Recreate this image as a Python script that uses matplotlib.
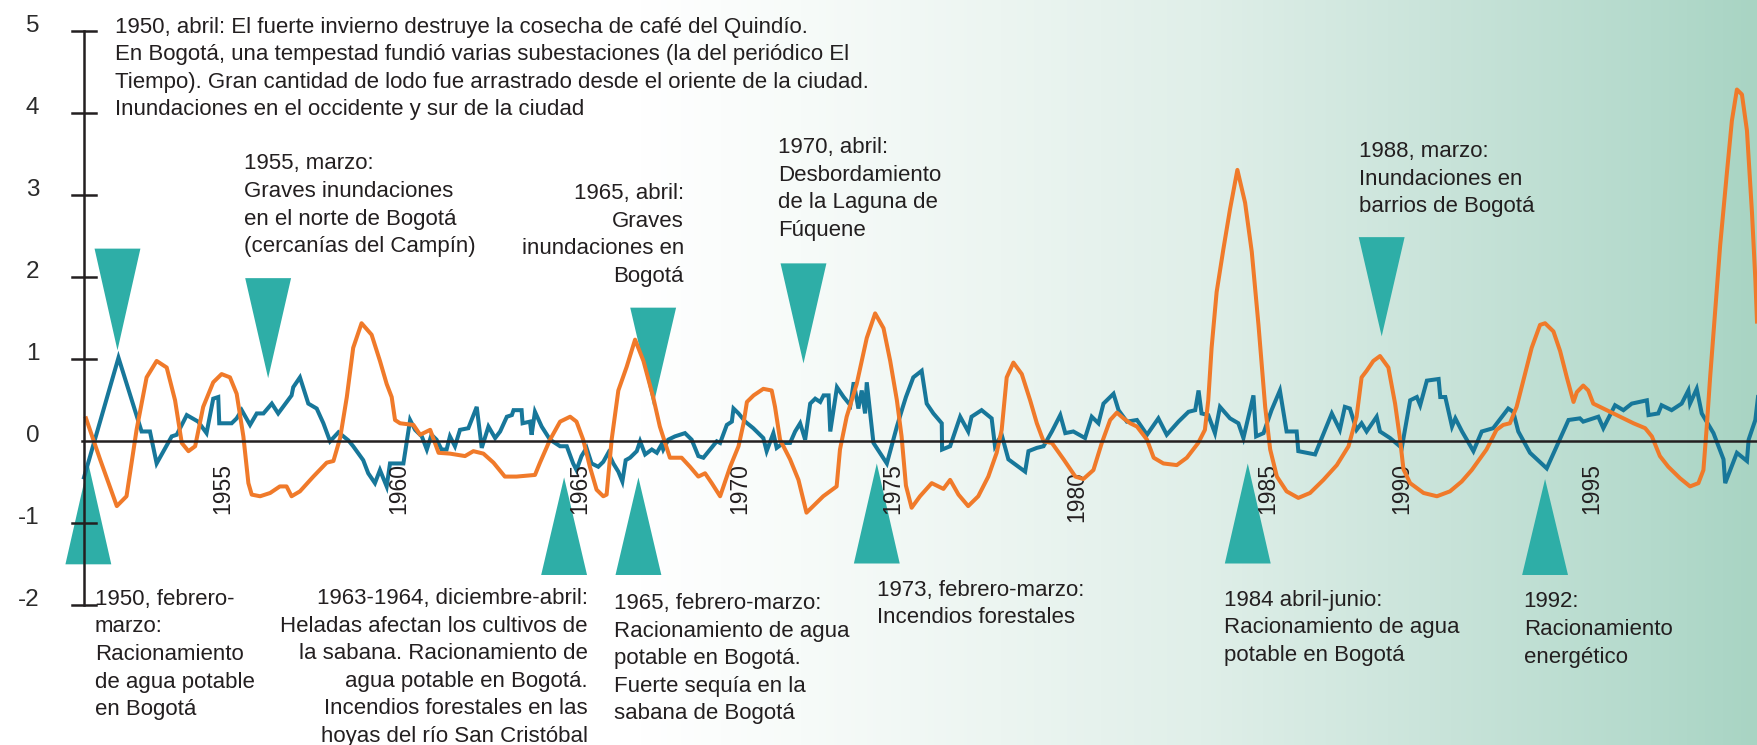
import numpy as np
import matplotlib
matplotlib.use("Agg")
from matplotlib import pyplot as plt
from matplotlib.patches import Polygon

plt.rcParams['font.family'] = ['Liberation Sans', 'DejaVu Sans']

# blue series (year, value)
blue_x = [1950.00, 1951.03, 1951.72, 1951.97, 1952.17, 1952.62, 1952.77, 1953.07, 1953.41, 1953.66,
          1953.86, 1954.01, 1954.04, 1954.41, 1954.56, 1954.71, 1954.96, 1955.16, 1955.36, 1955.61,
          1955.80, 1956.20, 1956.25, 1956.45, 1956.70, 1956.95, 1957.15, 1957.35, 1957.60, 1957.90,
          1958.04, 1958.34, 1958.49, 1958.69, 1958.84, 1959.04, 1959.14, 1959.54, 1959.74, 1959.89,
          1960.09, 1960.24, 1960.38, 1960.53, 1960.68, 1960.83, 1960.93, 1961.08, 1961.23, 1961.48,
          1961.73, 1961.88, 1962.08, 1962.28, 1962.43, 1962.63, 1962.78, 1962.83, 1963.07, 1963.10,
          1963.32, 1963.37, 1963.47, 1963.67, 1963.92, 1964.22, 1964.42, 1964.61, 1964.71, 1964.86,
          1965.01, 1965.16, 1965.36, 1965.51, 1965.66, 1965.81, 1965.96, 1966.08, 1966.18, 1966.31,
          1966.51, 1966.61, 1966.76, 1966.96, 1967.11, 1967.25, 1967.30, 1967.45, 1967.65, 1967.95,
          1968.15, 1968.35, 1968.50, 1968.70, 1968.90, 1969.00, 1969.20, 1969.35, 1969.40, 1969.55,
          1969.75, 1969.99, 1970.29, 1970.39, 1970.59, 1970.69, 1970.89, 1971.09, 1971.24, 1971.39,
          1971.54, 1971.69, 1971.84, 1971.99, 1972.09, 1972.24, 1972.29, 1972.49, 1972.69, 1972.89,
          1972.99, 1973.13, 1973.23, 1973.33, 1973.38, 1973.58, 1973.98, 1974.28, 1974.45, 1974.55,
          1974.77, 1975.02, 1975.17, 1975.37, 1975.62, 1975.63, 1975.87, 1976.17, 1976.41, 1976.51,
          1976.81, 1977.11, 1977.21, 1977.41, 1977.61, 1978.11, 1978.21, 1978.46, 1978.66, 1978.91,
          1979.16, 1979.31, 1979.55, 1979.90, 1980.10, 1980.30, 1980.45, 1980.75, 1980.90, 1981.15,
          1981.45, 1981.75, 1982.09, 1982.34, 1982.69, 1982.99, 1983.19, 1983.29, 1983.38, 1983.58,
          1983.78, 1983.93, 1984.23, 1984.48, 1984.63, 1984.93, 1985.01, 1985.23, 1985.47, 1985.72,
          1985.92, 1986.22, 1986.27, 1986.77, 1987.27, 1987.51, 1987.66, 1987.81, 1988.01, 1988.16,
          1988.31, 1988.61, 1988.71, 1989.01, 1989.36, 1989.61, 1989.81, 1989.91, 1990.11, 1990.46,
          1990.51, 1990.66, 1990.86, 1990.96, 1991.16, 1991.50, 1991.75, 1992.09, 1992.54, 1992.69,
          1992.84, 1993.19, 1993.69, 1994.34, 1994.68, 1994.78, 1995.23, 1995.38, 1995.73, 1995.98,
          1996.23, 1996.68, 1996.73, 1997.02, 1997.12, 1997.42, 1997.72, 1997.92, 1997.97, 1998.17,
          1998.32, 1998.67, 1998.97, 1999.02, 1999.37, 1999.67, 1999.72, 1999.92, 2000.00]
blue_y = [-0.45, 1.01, 0.11, 0.11, -0.28, 0.05, 0.07, 0.31, 0.23, 0.09,
          0.51, 0.53, 0.21, 0.21, 0.27, 0.37, 0.19, 0.33, 0.33, 0.45,
          0.33, 0.55, 0.65, 0.77, 0.45, 0.39, 0.21, -0.01, 0.10, 0.00,
          -0.07, -0.24, -0.40, -0.52, -0.36, -0.56, -0.28, -0.28, 0.25, 0.13,
          0.05, -0.11, 0.07, 0.01, -0.11, -0.11, 0.05, -0.07, 0.13, 0.15,
          0.41, -0.09, 0.17, 0.03, 0.11, 0.29, 0.31, 0.37, 0.37, 0.21,
          0.23, 0.07, 0.35, 0.17, 0.01, -0.07, -0.07, -0.28, -0.36, -0.19,
          -0.09, -0.28, -0.32, -0.26, -0.15, -0.28, -0.38, -0.50, -0.24, -0.21,
          -0.13, -0.01, -0.17, -0.11, -0.15, -0.05, -0.11, 0.01, 0.05, 0.09,
          0.01, -0.19, -0.21, -0.11, -0.01, -0.03, 0.19, 0.23, 0.39, 0.33,
          0.23, 0.15, 0.03, -0.13, 0.09, -0.09, -0.03, -0.03, 0.11, 0.21,
          0.01, 0.45, 0.51, 0.47, 0.55, 0.55, 0.11, 0.65, 0.53, 0.43,
          0.71, 0.39, 0.61, 0.33, 0.71, -0.03, -0.28, 0.17, 0.40, 0.53,
          0.77, 0.85, 0.45, 0.33, 0.21, -0.11, -0.07, 0.29, 0.11, 0.29,
          0.37, 0.27, -0.07, 0.07, -0.23, -0.38, -0.13, -0.09, -0.07, 0.11,
          0.31, 0.09, 0.11, 0.03, 0.29, 0.21, 0.45, 0.57, 0.37, 0.23,
          0.25, 0.07, 0.27, 0.07, 0.23, 0.35, 0.37, 0.61, 0.33, 0.31,
          0.09, 0.41, 0.27, 0.21, 0.03, 0.55, 0.05, 0.09, 0.37, 0.61,
          0.11, 0.11, -0.13, -0.17, 0.33, 0.13, 0.41, 0.39, 0.13, 0.21,
          0.11, 0.29, 0.11, 0.03, -0.09, 0.49, 0.53, 0.43, 0.73, 0.75,
          0.53, 0.53, 0.17, 0.27, 0.11, -0.13, 0.11, 0.15, 0.39, 0.35,
          0.11, -0.15, -0.34, 0.25, 0.27, 0.23, 0.29, 0.15, 0.43, 0.37,
          0.45, 0.49, 0.31, 0.33, 0.43, 0.37, 0.45, 0.61, 0.45, 0.63,
          0.33, 0.09, -0.23, -0.52, -0.15, -0.25, 0.01, 0.25, 0.53]

# orange series (year, value)
orange_x = [1950.06, 1950.48, 1950.98, 1951.27, 1951.57, 1951.87, 1952.17, 1952.47, 1952.72, 1952.92,
            1953.12, 1953.32, 1953.56, 1953.86, 1954.11, 1954.36, 1954.56, 1954.76, 1954.91, 1955.01,
            1955.26, 1955.56, 1955.85, 1956.05, 1956.20, 1956.45, 1956.85, 1957.25, 1957.45, 1957.65,
            1957.85, 1958.04, 1958.29, 1958.59, 1958.84, 1959.04, 1959.19, 1959.29, 1959.44, 1959.84,
            1960.04, 1960.34, 1960.59, 1960.93, 1961.38, 1961.63, 1961.93, 1962.23, 1962.57, 1962.92,
            1963.47, 1963.62, 1963.92, 1964.22, 1964.52, 1964.71, 1964.91, 1965.11, 1965.31, 1965.51,
            1965.61, 1965.76, 1965.96, 1966.21, 1966.46, 1966.71, 1967.00, 1967.20, 1967.50, 1967.85,
            1968.10, 1968.35, 1968.55, 1968.75, 1969.00, 1969.30, 1969.55, 1969.70, 1969.80, 1970.00,
            1970.29, 1970.54, 1970.64, 1970.79, 1971.09, 1971.34, 1971.58, 1971.88, 1972.08, 1972.48,
            1972.58, 1972.78, 1973.08, 1973.38, 1973.63, 1973.88, 1974.08, 1974.28, 1974.42, 1974.55,
            1974.72, 1974.97, 1975.32, 1975.67, 1975.87, 1976.12, 1976.41, 1976.71, 1977.01, 1977.26,
            1977.41, 1977.56, 1977.76, 1978.01, 1978.26, 1978.46, 1978.66, 1978.91, 1979.26, 1979.61,
            1979.85, 1980.15, 1980.40, 1980.65, 1980.85, 1981.05, 1981.25, 1981.45, 1981.75, 1981.95,
            1982.24, 1982.64, 1982.94, 1983.28, 1983.48, 1983.58, 1983.68, 1983.83, 1984.03, 1984.23,
            1984.45, 1984.68, 1984.88, 1985.08, 1985.28, 1985.43, 1985.63, 1985.92, 1986.27, 1986.62,
            1987.02, 1987.42, 1987.77, 1988.01, 1988.16, 1988.31, 1988.51, 1988.71, 1988.96, 1989.16,
            1989.31, 1989.41, 1989.61, 1990.01, 1990.41, 1990.80, 1991.15, 1991.45, 1991.89, 1992.19,
            1992.39, 1992.59, 1992.79, 1992.99, 1993.24, 1993.49, 1993.64, 1993.89, 1994.09, 1994.29,
            1994.49, 1994.59, 1994.78, 1994.93, 1995.08, 1995.48, 1995.88, 1996.28, 1996.63, 1996.83,
            1997.07, 1997.32, 1997.67, 1997.97, 1998.22, 1998.37, 1998.47, 1998.57, 1998.72, 1998.87,
            1999.07, 1999.22, 1999.37, 1999.52, 1999.67, 1999.82, 1999.92, 1999.97]
orange_y = [0.27, -0.23, -0.80, -0.68, 0.13, 0.77, 0.97, 0.89, 0.49, -0.03,
            -0.13, -0.07, 0.41, 0.71, 0.81, 0.77, 0.57, 0.05, -0.52, -0.66,
            -0.68, -0.64, -0.56, -0.56, -0.68, -0.62, -0.44, -0.27, -0.25, 0.03,
            0.53, 1.13, 1.43, 1.29, 0.97, 0.69, 0.53, 0.25, 0.21, 0.19,
            0.07, 0.13, -0.15, -0.16, -0.19, -0.13, -0.16, -0.27, -0.44, -0.44,
            -0.42, -0.27, 0.01, 0.23, 0.29, 0.23, 0.01, -0.32, -0.60, -0.68,
            -0.66, 0.01, 0.61, 0.90, 1.23, 0.97, 0.53, 0.17, -0.21, -0.21,
            -0.32, -0.44, -0.40, -0.52, -0.68, -0.32, -0.07, 0.21, 0.47, 0.55,
            0.63, 0.61, 0.41, 0.01, -0.23, -0.48, -0.88, -0.76, -0.68, -0.56,
            -0.11, 0.29, 0.69, 1.25, 1.55, 1.37, 0.97, 0.49, 0.05, -0.55,
            -0.82, -0.68, -0.52, -0.59, -0.48, -0.66, -0.80, -0.68, -0.44, -0.15,
            0.13, 0.77, 0.95, 0.81, 0.49, 0.21, -0.01, -0.03, -0.23, -0.44,
            -0.47, -0.36, -0.03, 0.25, 0.34, 0.27, 0.21, 0.17, 0.01, -0.21,
            -0.28, -0.30, -0.21, -0.03, 0.13, 0.49, 1.13, 1.81, 2.33, 2.82,
            3.30, 2.90, 2.30, 1.41, 0.41, -0.11, -0.44, -0.62, -0.70, -0.64,
            -0.48, -0.30, -0.07, 0.29, 0.77, 0.85, 0.97, 1.03, 0.89, 0.45,
            0.01, -0.35, -0.52, -0.64, -0.68, -0.62, -0.50, -0.36, -0.11, 0.13,
            0.19, 0.21, 0.41, 0.73, 1.13, 1.41, 1.43, 1.33, 1.09, 0.77,
            0.47, 0.59, 0.67, 0.61, 0.45, 0.37, 0.29, 0.21, 0.15, 0.05,
            -0.19, -0.32, -0.46, -0.56, -0.52, -0.36, 0.17, 0.77, 1.57, 2.38,
            3.26, 3.90, 4.28, 4.22, 3.78, 2.78, 1.97, 1.45]

# events: wet (triangle pointing down, above the line) and dry (pointing up)
wet_year = [1951.0, 1955.5, 1967.0, 1971.49, 1988.76]
wet_tip = [1.10, 0.76, 0.42, 0.94, 1.27]
wet_base = [2.34, 1.98, 1.62, 2.16, 2.48]
dry_year = [1950.13, 1964.34, 1966.56, 1973.68, 1984.76, 1993.64]
dry_tip = [-0.28, -0.45, -0.45, -0.28, -0.28, -0.47]
dry_base = [-1.51, -1.64, -1.64, -1.50, -1.50, -1.64]

y_ticks = [-2, -1, 0, 1, 2, 3, 4, 5]
year_labels = ['1955', '1960', '1965', '1970', '1975', '1980', '1985', '1990', '1995']
year_label_x = [1954.15, 1959.41, 1964.81, 1969.59, 1974.16, 1979.66, 1985.36, 1989.37, 1995.04]
year_label_y = [-0.59, -0.59, -0.59, -0.59, -0.59, -0.68, -0.59, -0.59, -0.59]

notes = [
    (1950.94, 5.17, 'left',
     '1950, abril: El fuerte invierno destruye la cosecha de café del Quindío.\n'
     'En Bogotá, una tempestad fundió varias subestaciones (la del periódico El\n'
     'Tiempo). Gran cantidad de lodo fue arrastrado desde el oriente de la ciudad.\n'
     'Inundaciones en el occidente y sur de la ciudad'),
    (1954.79, 3.50, 'left',
     '1955, marzo:\nGraves inundaciones\nen el norte de Bogotá\n(cercanías del Campín)'),
    (1967.92, 3.14, 'right', '1965, abril:\nGraves\ninundaciones en\nBogotá'),
    (1970.74, 3.70, 'left', '1970, abril:\nDesbordamiento\nde la Laguna de\nFúquene'),
    (1988.08, 3.65, 'left', '1988, marzo:\nInundaciones en\nbarrios de Bogotá'),
    (1950.33, -1.81, 'left',
     '1950, febrero-\nmarzo:\nRacionamiento\nde agua potable\nen Bogotá'),
    (1965.04, -1.80, 'right',
     '1963-1964, diciembre-abril:\nHeladas afectan los cultivos de\nla sabana. Racionamiento de\n'
     'agua potable en Bogotá.\nIncendios forestales en las\nhoyas del río San Cristóbal'),
    (1965.84, -1.86, 'left',
     '1965, febrero-marzo:\nRacionamiento de agua\npotable en Bogotá.\nFuerte sequía en la\nsabana de Bogotá'),
    (1973.68, -1.70, 'left', '1973, febrero-marzo:\nIncendios forestales'),
    (1984.05, -1.82, 'left', '1984 abril-junio:\nRacionamiento de agua\npotable en Bogotá'),
    (1993.00, -1.84, 'left', '1992:\nRacionamiento\nenergético'),
]

fig = plt.figure(figsize=(17.58, 7.45), dpi=100)
ax = fig.add_axes([0, 0, 1, 1])
ax.set_xlim(1950 - 84 / 33.48, 2000)
ax.set_ylim(-(745 - 440.5) / 82, 440.5 / 82)
ax.axis('off')

# background: white on the left, fading to pale green on the right
stops = [0, 640, 800, 1000, 1200, 1450, 1650, 1758]
cols = np.array([[255, 255, 255], [255, 255, 255], [247, 251, 249], [236, 245, 241],
                 [224, 239, 233], [200, 227, 217], [180, 218, 204], [168, 212, 195]]) / 255.0
px = np.arange(1758)
grad = np.stack([np.interp(px, stops, cols[:, i]) for i in range(3)], axis=-1)[None, :, :]
ax.imshow(grad, extent=[0, 1, 0, 1], transform=ax.transAxes, aspect='auto', zorder=0)

teal = '#2eaea7'
w = 1.37
for x, t, b in zip(wet_year + dry_year, wet_tip + dry_tip, wet_base + dry_base):
    ax.add_patch(Polygon([(x - w / 2, b), (x + w / 2, b), (x, t)], closed=True,
                         facecolor=teal, edgecolor='none', zorder=2))

ax.plot(orange_x, orange_y, color='#f07a2a', lw=2.9, solid_joinstyle='round', zorder=4)
ax.plot(blue_x, blue_y, color='#17779a', lw=2.9, solid_joinstyle='miter', zorder=3)

# axes lines
axis_col = '#231f20'
ax.plot([1950, 1950], [-2, 5], color=axis_col, lw=1.8, zorder=5)
ax.plot([1950 - 0.07, 2000], [0, 0], color=axis_col, lw=1.8, zorder=5)
for v in y_ticks:
    if v != 0:
        ax.plot([1950 - 0.35, 1950 + 0.35], [v, v], color=axis_col, lw=1.8, zorder=5)
    ax.text(1948.66, v + 0.05, str(v), ha='right', va='center', fontsize=17.5, color='#2b2b2b')

for lab, x, y in zip(year_labels, year_label_x, year_label_y):
    ax.text(x, y, lab, rotation=90, ha='center', va='center', fontsize=16.5, color='#231f20')

for x, y, ha, s in notes:
    ax.text(x, y, s, ha=ha, va='top', multialignment=ha, fontsize=16,
            color='#231f20', linespacing=1.41, zorder=6)

fig.savefig('out.png', dpi=100)
